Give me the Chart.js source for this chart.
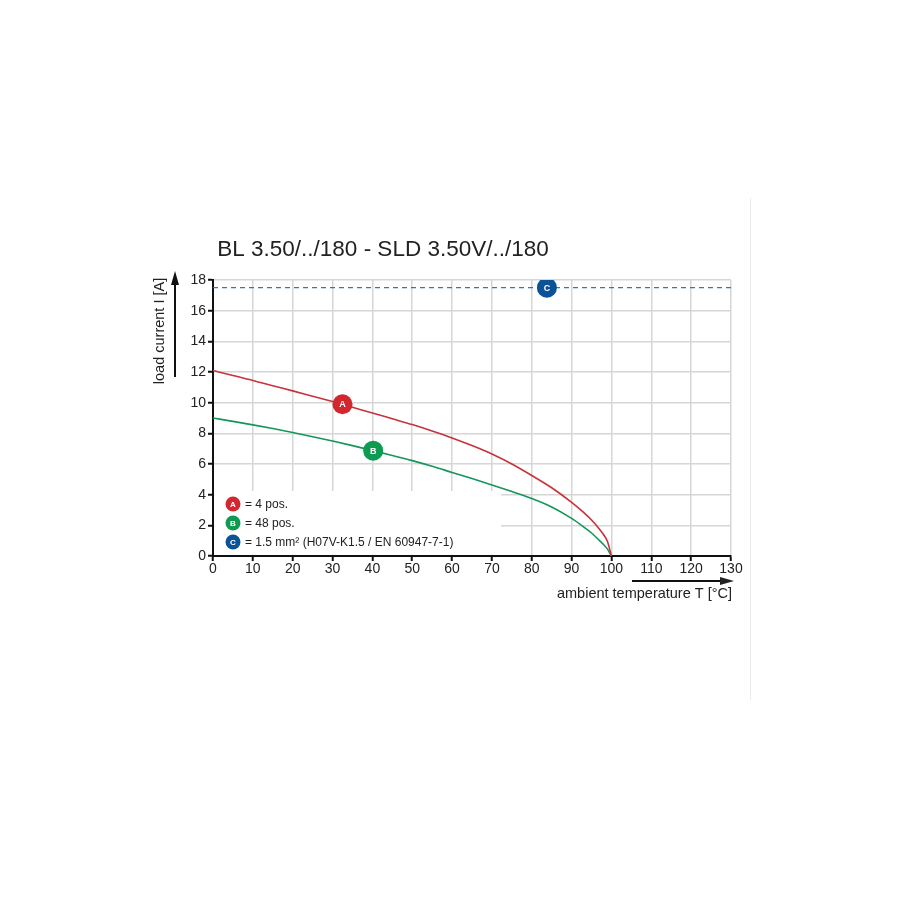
<!DOCTYPE html>
<html><head><meta charset="utf-8">
<script src="https://cdn.jsdelivr.net/npm/chart.js@4"></script>
<style>html,body{margin:0;padding:0;background:#fff}canvas{display:block}</style>
</head><body><canvas id="c" width="900" height="900"></canvas>
<script>
// ---- data ----
const temps = [0, 5, 10, 15, 20, 25, 30, 35, 40, 45, 50, 55, 60, 65, 70, 75, 80, 85, 90, 93, 95, 97, 98, 99, 100];
const currentA = [12.1, 11.77, 11.45, 11.1, 10.77, 10.42, 10.07, 9.7, 9.33, 8.95, 8.57, 8.15, 7.7, 7.2, 6.65, 6.0, 5.25, 4.45, 3.5, 2.85, 2.35, 1.75, 1.4, 0.95, 0];
const currentB = [9.0, 8.78, 8.55, 8.31, 8.05, 7.78, 7.5, 7.2, 6.88, 6.56, 6.22, 5.85, 5.45, 5.05, 4.63, 4.2, 3.75, 3.2, 2.45, 1.9, 1.5, 1.0, 0.75, 0.45, 0];
const limitC = 17.5;
const limitRange = [0, 130];
const markerLabels = ['A', 'B', 'C'];
const markerT = [32.5, 40.2, 83.8];
const markerI = [9.9, 6.87, 17.5];
const legendLabels = ['= 4 pos.', '= 48 pos.', '= 1.5 mm\u00B2 (H07V-K1.5 / EN 60947-7-1)'];
const xMin = 0, xMax = 130, xStep = 10;
const yMin = 0, yMax = 18, yStep = 2;
const titleText = 'BL 3.50/../180 - SLD 3.50V/../180';
const xTitle = 'ambient temperature T [\u00B0C]';
const yTitle = 'load current I [A]';

const colA = '#c8323a', colB = '#13975a', colC = '#3275bf';
const markCols = ['#d3262e', '#0f9a52', '#0b5296'];
const FONT = '"Liberation Sans", Arial, Helvetica, sans-serif';

const toXY = (xs, ys) => xs.map((x, i) => ({x: x, y: ys[i]}));

const deco = {
  id: 'deco',
  beforeDatasetsDraw(chart) {
    const ctx = chart.ctx, a = chart.chartArea;
    ctx.save();
    ctx.fillStyle = '#fff';
    ctx.fillRect(a.left + 1.5, 491, 501 - a.left - 1.5, a.bottom - 1.5 - 491);
    ctx.restore();
  },
  afterDraw(chart) {
    const ctx = chart.ctx;
    ctx.save();
    // letters on markers
    const meta = chart.getDatasetMeta(3);
    meta.data.forEach((pt, i) => {
      ctx.fillStyle = '#fff';
      ctx.font = 'bold 9px ' + FONT;
      ctx.textAlign = 'center'; ctx.textBaseline = 'middle';
      ctx.fillText(markerLabels[i], pt.x, pt.y + 0.5);
    });
    // title
    ctx.fillStyle = '#222';
    ctx.font = '22.5px ' + FONT;
    ctx.textAlign = 'center'; ctx.textBaseline = 'middle';
    ctx.fillText(titleText, 383, 250);
    // y title rotated
    ctx.save();
    ctx.translate(160, 331);
    ctx.rotate(-Math.PI / 2);
    ctx.font = '14.5px ' + FONT;
    ctx.fillStyle = '#222';
    ctx.fillText(yTitle, 0, 0);
    ctx.restore();
    // y arrow
    ctx.strokeStyle = '#111'; ctx.fillStyle = '#111'; ctx.lineWidth = 2;
    ctx.beginPath(); ctx.moveTo(175, 377); ctx.lineTo(175, 282); ctx.stroke();
    ctx.beginPath(); ctx.moveTo(175, 271); ctx.lineTo(171, 285); ctx.lineTo(179, 285); ctx.closePath(); ctx.fill();
    // x title
    ctx.font = '14.5px ' + FONT;
    ctx.fillStyle = '#222';
    ctx.textAlign = 'right';
    ctx.fillText(xTitle, 732, 594);
    // x arrow
    ctx.beginPath(); ctx.moveTo(632, 581); ctx.lineTo(722, 581); ctx.stroke();
    ctx.beginPath(); ctx.moveTo(734, 581); ctx.lineTo(720, 577); ctx.lineTo(720, 585); ctx.closePath(); ctx.fill();
    // legend
    const ly = [504, 523, 542];
    legendLabels.forEach((t, i) => {
      ctx.fillStyle = markCols[i];
      ctx.beginPath(); ctx.arc(233, ly[i], 7.5, 0, Math.PI * 2); ctx.fill();
      ctx.fillStyle = '#fff';
      ctx.font = 'bold 8px ' + FONT;
      ctx.textAlign = 'center'; ctx.textBaseline = 'middle';
      ctx.fillText(markerLabels[i], 233, ly[i] + 0.5);
      ctx.fillStyle = '#222';
      ctx.font = '12px ' + FONT;
      ctx.textAlign = 'left';
      ctx.fillText(t, 245, ly[i] + 0.5);
    });
    // faint frame line on right
    ctx.strokeStyle = '#ececec'; ctx.lineWidth = 1;
    ctx.beginPath(); ctx.moveTo(750.5, 198); ctx.lineTo(750.5, 700); ctx.stroke();
    ctx.restore();
  }
};

new Chart(document.getElementById('c'), {
  type: 'scatter',
  data: {
    datasets: [
      {data: toXY(temps, currentA), showLine: true, borderColor: colA, borderWidth: 1.6, pointRadius: 0, cubicInterpolationMode: 'monotone', order: 2},
      {data: toXY(temps, currentB), showLine: true, borderColor: colB, borderWidth: 1.6, pointRadius: 0, cubicInterpolationMode: 'monotone', order: 2},
      {data: limitRange.map(x => ({x: x, y: limitC})), showLine: true, borderColor: colC, borderWidth: 1.3, borderDash: [5, 4], pointRadius: 0, order: 2},
      {data: toXY(markerT, markerI), showLine: false, pointRadius: 10, pointHoverRadius: 10, pointBackgroundColor: markCols, pointBorderWidth: 0, order: 0}
    ]
  },
  options: {
    responsive: false,
    animation: false,
    events: [],
    layout: {padding: {left: 0, right: 169, top: 280, bottom: 314}},
    plugins: {legend: {display: false}, tooltip: {enabled: false}, title: {display: false}},
    scales: {
      x: {
        type: 'linear', min: xMin, max: xMax,
        ticks: {stepSize: xStep, color: '#222', font: {family: FONT, size: 14}, padding: 0, maxRotation: 0},
        grid: {color: '#d6d6d6', lineWidth: 1.5, tickColor: '#111', tickLength: 5, tickWidth: 2, drawTicks: true},
        border: {display: true, color: '#111', width: 2},
        afterFit(s) { s.height = 30; }
      },
      y: {
        type: 'linear', min: yMin, max: yMax,
        ticks: {stepSize: yStep, color: '#222', font: {family: FONT, size: 14}, padding: 2},
        grid: {color: '#d6d6d6', lineWidth: 1.5, tickColor: '#111', tickLength: 5, tickWidth: 2, drawTicks: true},
        border: {display: true, color: '#111', width: 2},
        afterFit(s) { s.width = 213; }
      }
    }
  },
  plugins: [deco]
});
</script>
</body></html>
